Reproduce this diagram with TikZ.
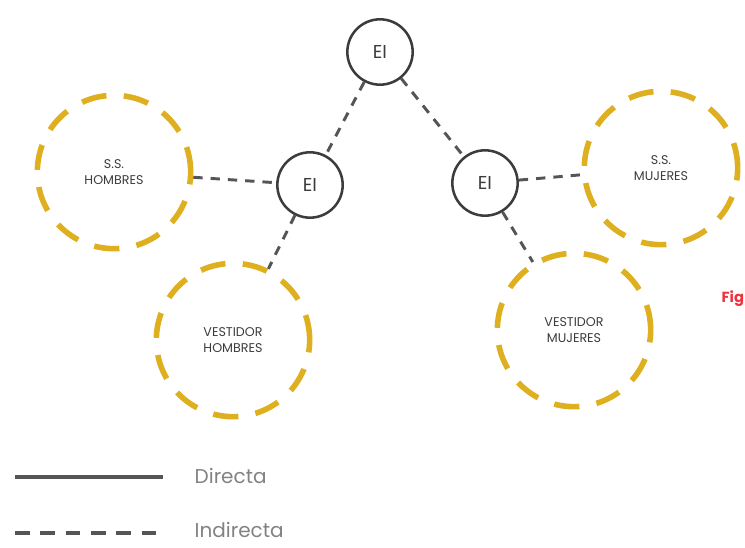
\documentclass[tikz,border=0pt]{standalone}
\usepackage{fontspec}
\setmainfont{Poppins}
\usetikzlibrary{calc}
\definecolor{ochre}{RGB}{222,176,32}
\definecolor{inkgray}{RGB}{60,60,60}
\definecolor{linkgray}{RGB}{85,85,85}
\definecolor{legendgray}{RGB}{130,130,130}
\definecolor{figred}{RGB}{240,50,60}
\tikzset{
    eibox/.style={circle,draw=inkgray,line width=1.9pt,minimum size=49pt,inner sep=0pt,font=\fontsize{14}{16}\selectfont,text=inkgray},
    zonebox/.style={circle,draw=ochre,line width=4.2pt,dash pattern=on 19pt off 13pt,minimum size=115pt,inner sep=0pt,align=center,font=\fontsize{9.5}{12}\selectfont,text=inkgray},
    indirect/.style={linkgray,line width=2.2pt,dash pattern=on 7pt off 6pt},
    direct/.style={linkgray,line width=2.4pt},
    legendtext/.style={anchor=west,text=legendgray,font=\fontsize{15}{17}\selectfont}
}
\begin{document}
\begin{tikzpicture}[x={(0.75pt,0)},y={(0,-0.75pt)}]
    \useasboundingbox (0,0) rectangle (745,548);
    % Entradas
    \node[eibox] (eitop) at (380,52) {EI};
    \node[eibox] (eileft) at (310,185) {EI};
    \node[eibox] (eiright) at (485,183) {EI};
    % Zonas
    \node[zonebox] (sshom) at (114,172) {S.S.\\HOMBRES};
    \node[zonebox] (vesthom) at (233,340) {VESTIDOR\\HOMBRES};
    \node[zonebox] (ssmuj) at (661,168) {S.S.\\MUJERES};
    \node[zonebox] (vestmuj) at (574,330) {VESTIDOR\\MUJERES};
    % Conexiones
    \draw[indirect] (eitop) -- (eileft);
    \draw[indirect] (eitop) -- (eiright);
    \draw[indirect] (sshom) -- (eileft);
    \draw[indirect] (eileft) -- (vesthom);
    \draw[indirect] (eiright) -- (ssmuj);
    \draw[indirect] (eiright) -- (vestmuj);
    % Leyenda
    \coordinate (dira) at (15,477);
    \coordinate (dirb) at (163,477);
    \coordinate (inda) at (15,533);
    \coordinate (indb) at (163,533);
    \draw[direct] (dira) -- (dirb);
    \draw[linkgray,line width=2.4pt,dash pattern=on 11pt off 8pt] (inda) -- (indb);
    \node[legendtext] (dirlabel) at (190,476) {Directa};
    \node[legendtext] (indlabel) at (190,530) {Indirecta};
    \node[anchor=west,text=figred,font=\bfseries\fontsize{11}{13}\selectfont] (figlabel) at (717,299) {Fig};
\end{tikzpicture}
\end{document}
